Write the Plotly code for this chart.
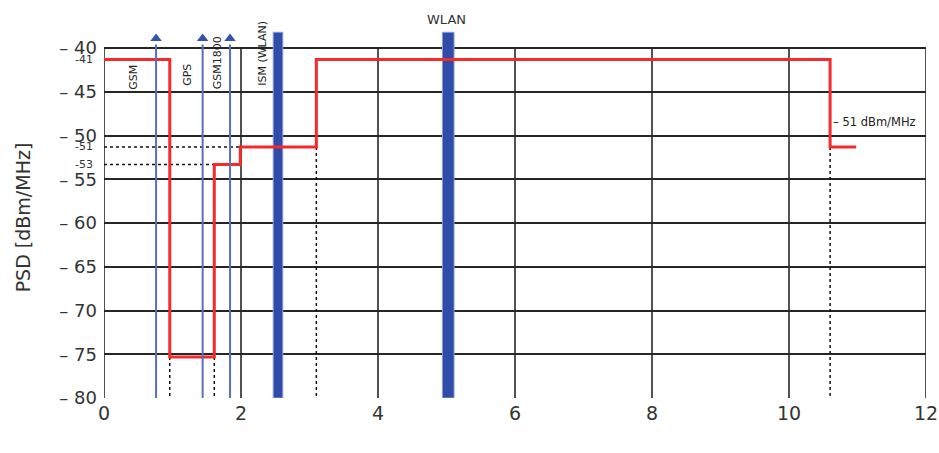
import plotly.graph_objects as go

# ---------------- data ----------------
# FCC indoor UWB emission mask (red step line)
mask_freq = [0, 0.96, 1.61, 1.99, 3.1, 10.6, 10.98]
mask_psd = [-41.3, -75.3, -53.3, -51.3, -41.3, -51.3, -51.3]

# narrowband services drawn as thin blue arrows
arrow_freq = [0.76, 1.44, 1.84]
arrow_labels = ["0.8", "1.5", "1.8"]
arrow_top = -39.6
arrow_head = -38.9

# interfering WLAN bands drawn as thick blue bars
band_center = [2.54, 5.025]
band_width = [0.14, 0.17]
band_top = [-38.2, -38.2]
band_labels = ["2.4", "5"]
band_label_y = [-81.25, -80.7]

# rotated service names
service_names = ["GSM", "GPS", "GSM1800", "ISM (WLAN)"]
service_x = [0.43, 1.22, 1.65, 2.32]
service_y = [-45.0, -44.6, -45.0, -44.5]

# dotted guide lines
guide_v_freq = [0.96, 1.61, 3.1, 10.6]
guide_v_level = [-75.3, -75.3, -51.3, -51.3]
guide_h_level = [-51.3, -53.3]
guide_h_end = [1.99, 1.61]

# axes
x_ticks = [0, 2, 4, 6, 8, 10, 12]
x_ticktext = ["0", "2", "4", "6", "8", "10", "12"]
extra_x = [3.1, 10.6]
extra_x_labels = ["3.1", "10.6"]
y_ticks = [-40, -45, -50, -55, -60, -65, -70, -75, -80]
y_ticktext = ["– 40", "– 45", "– 50", "– 55", "– 60", "– 65", "– 70", "– 75", "– 80"]
extra_y = [-41.3, -51.3, -53.3]
extra_y_labels = ["-41", "-51", "-53"]

Y_MIN, Y_BOX_TOP, Y_RANGE_TOP = -80, -40, -36
X_MIN, X_MAX = 0, 12

FONT = "DejaVu Sans"
GRID = "#262626"
RED = "#f52a2a"
BLUE_LINE = "#5a6fbb"
BLUE_HEAD = "#3553ad"
BLUE_BAR = "#2f4ca8"

fig = go.Figure()

# dotted guides
gx, gy = [], []
for f, lv in zip(guide_v_freq, guide_v_level):
    gx += [f, f, None]
    gy += [lv, Y_MIN, None]
for lv, e in zip(guide_h_level, guide_h_end):
    gx += [X_MIN, e, None]
    gy += [lv, lv, None]
fig.add_trace(go.Scatter(x=gx, y=gy, mode="lines",
                         line=dict(color="#111111", width=1.5, dash="dot"),
                         hoverinfo="skip", showlegend=False))

# red mask
fig.add_trace(go.Scatter(x=mask_freq, y=mask_psd, mode="lines",
                         line=dict(color=RED, width=3, shape="hv"),
                         showlegend=False))

# blue arrows
ax_, ay_ = [], []
for f in arrow_freq:
    ax_ += [f, f, None]
    ay_ += [Y_MIN, arrow_top, None]
fig.add_trace(go.Scatter(x=ax_, y=ay_, mode="lines",
                         line=dict(color=BLUE_LINE, width=2),
                         hoverinfo="skip", showlegend=False))
fig.add_trace(go.Scatter(x=arrow_freq, y=[arrow_head] * len(arrow_freq), mode="markers",
                         marker=dict(symbol="triangle-up", size=10, color=BLUE_HEAD),
                         hoverinfo="skip", showlegend=False))

# thick bars
fig.add_trace(go.Bar(x=band_center, y=[t - Y_MIN for t in band_top], base=Y_MIN,
                     width=band_width,
                     marker=dict(color=BLUE_BAR, line=dict(color="#8c9ad6", width=1)),
                     showlegend=False))

# grid box verticals + borders as shapes
for xv in x_ticks:
    fig.add_shape(type="line", x0=xv, x1=xv, y0=Y_MIN, y1=Y_BOX_TOP,
                  xref="x", yref="y", layer="below",
                  line=dict(color=GRID, width=1.6))

ann = []
# service names
for name, xv, yv in zip(service_names, service_x, service_y):
    ann.append(dict(x=xv, y=yv, xref="x", yref="y", text=name, showarrow=False,
                    textangle=-90, xanchor="center", yanchor="bottom",
                    font=dict(family=FONT, size=11, color="#222")))
# rotated arrow frequency labels
for f, lab in zip(arrow_freq, arrow_labels):
    ann.append(dict(x=f, y=-81.3, xref="x", yref="y", text=lab, showarrow=False,
                    textangle=-90, xanchor="center", yanchor="middle",
                    font=dict(family=FONT, size=12, color="#333")))
# band labels
for c, lab, yv in zip(band_center, band_labels, band_label_y):
    ann.append(dict(x=c, y=yv, xref="x", yref="y", text=lab, showarrow=False,
                    xanchor="center", yanchor="middle",
                    font=dict(family=FONT, size=12, color="#333")))
# extra x labels
for xv, lab in zip(extra_x, extra_x_labels):
    ann.append(dict(x=xv, y=-81.1 if xv < 5 else -80.8, xref="x", yref="y", text=lab,
                    showarrow=False, xanchor="center", yanchor="middle",
                    font=dict(family=FONT, size=12, color="#333")))
# extra y labels
for yv, lab in zip(extra_y, extra_y_labels):
    ann.append(dict(x=-0.011, y=yv, xref="paper", yref="y", text=lab, showarrow=False,
                    xanchor="right", yanchor="middle",
                    font=dict(family=FONT, size=11, color="#333")))
# WLAN title
ann.append(dict(x=band_center[1] - 0.03, y=-36.7, xref="x", yref="y", text="WLAN",
                showarrow=False, xanchor="center", yanchor="middle",
                font=dict(family=FONT, size=13, color="#333")))
# -51 dBm/MHz note
ann.append(dict(x=10.62, y=-48.5, xref="x", yref="y", text="– 51 dBm/MHz",
                showarrow=False, xanchor="left", yanchor="middle",
                font=dict(family=FONT, size=11.5, color="#222")))
# axis titles
ann.append(dict(x=-0.099, y=-59.4, xref="paper", yref="y", text="PSD [dBm/MHz]",
                showarrow=False, textangle=-90, xanchor="center", yanchor="middle",
                font=dict(family=FONT, size=19, color="#333")))
ann.append(dict(x=6.0, y=-84.8, xref="x", yref="y", text="Frequency [GHz]",
                showarrow=False, xanchor="center", yanchor="middle",
                font=dict(family=FONT, size=19, color="#333")))

fig.update_layout(
    width=939, height=453,
    margin=dict(l=104, r=13, t=13, b=55),
    paper_bgcolor="white", plot_bgcolor="white",
    barmode="overlay",
    annotations=ann,
    xaxis=dict(range=[X_MIN, X_MAX], tickvals=x_ticks, ticktext=x_ticktext,
               showgrid=False, zeroline=False, showline=False, ticks="",
               ticklabelstandoff=2, automargin=False,
               tickfont=dict(family=FONT, size=19, color="#333")),
    yaxis=dict(range=[Y_MIN, Y_RANGE_TOP], tickvals=y_ticks, ticktext=y_ticktext,
               showgrid=True, gridcolor=GRID, gridwidth=1.6, zeroline=False,
               showline=False, ticks="", ticklabelstandoff=6, automargin=False,
               tickfont=dict(family=FONT, size=18, color="#333")),
)

fig.write_html("out.html",
               config={"responsive": False, "displayModeBar": False},
               post_script="document.body.style.margin='0';document.body.style.overflow='hidden';")
